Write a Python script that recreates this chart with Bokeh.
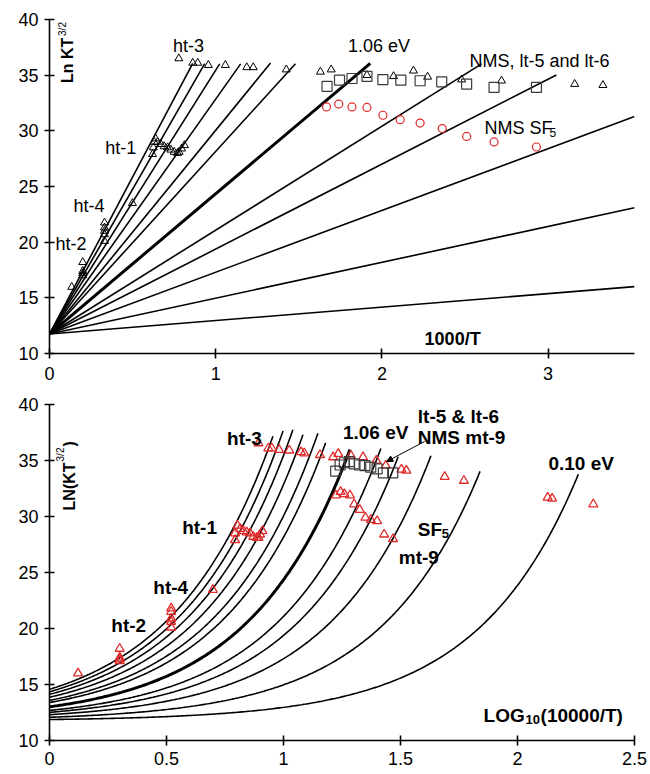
import math
import numpy as np
from bokeh.plotting import figure
from bokeh.layouts import column
from bokeh.models import Range1d, FixedTicker, Label, Arrow, NormalHead
from bokeh.embed import file_html
from bokeh.resources import INLINE

# ---- model lines: Ln(K T^3/2) = intercept + slope * (1000/T) ----
intercept = 11.75
slopes = [28.2, 26.0, 23.7, 21.1, 18.3, 16.4, 12.6, 9.33, 7.63, 5.55, 3.22, 1.21]
thick_line = [False, False, False, False, False, False, True, False, False, False, False, False]
top_line_end_u = [0.862, 0.934, 1.024, 1.15, 1.33, 1.48, 1.93, 2.6, 3.05, 3.52, 3.52, 3.52]
bottom_curve_end_x = [0.955, 0.998, 1.04, 1.083, 1.147, 1.18, 1.284, 1.416, 1.49, 1.63, 1.84, 2.26]

# ---- top panel data (x = 1000/T) ----
top_ht2_u = [0.134, 0.2, 0.2, 0.2, 0.2]
top_ht2_y = [15.97, 18.2, 17.4, 17.2, 17.0]
top_ht4_u = [0.331, 0.331, 0.331, 0.331, 0.331, 0.499]
top_ht4_y = [21.75, 21.3, 21.0, 20.7, 20.1, 23.5]
top_ht1_u = [0.62, 0.625, 0.63, 0.638, 0.65, 0.67, 0.69, 0.71, 0.73, 0.75, 0.77, 0.78, 0.795, 0.812]
top_ht1_y = [27.9, 28.5, 29.0, 29.3, 29.0, 28.8, 28.6, 28.5, 28.3, 28.1, 28.0, 28.1, 28.4, 28.7]
top_ht3_u = [0.778, 0.862, 0.892, 0.956, 1.058, 1.187, 1.226, 1.425, 1.63, 1.695, 1.91, 2.07,
             2.19, 2.275, 2.48, 2.72, 3.16, 3.33]
top_ht3_y = [36.5, 36.1, 36.1, 35.9, 35.9, 35.7, 35.7, 35.5, 35.3, 35.5, 35.0, 34.9,
             35.4, 34.85, 34.6, 34.5, 34.2, 34.1]
top_nms_u = [1.67, 1.745, 1.82, 1.91, 2.006, 2.114, 2.23, 2.36, 2.51, 2.675, 2.93]
top_nms_y = [34.0, 34.55, 34.7, 34.9, 34.6, 34.55, 34.5, 34.4, 34.2, 33.9, 33.9]
top_sf5_u = [1.667, 1.74, 1.82, 1.91, 2.006, 2.11, 2.23, 2.363, 2.51, 2.675, 2.93]
top_sf5_y = [32.15, 32.4, 32.15, 32.1, 31.4, 31.0, 30.7, 30.2, 29.5, 29.0, 28.55]

# ---- bottom panel data (x = log10(10000/T)) ----
bot_ht24_x = [0.122, 0.3, 0.3, 0.3, 0.3, 0.52, 0.52, 0.52, 0.52, 0.52, 0.698]
bot_ht24_y = [16.0, 18.2, 17.4, 17.25, 17.1, 21.8, 21.5, 20.9, 20.6, 20.1, 23.45]
bot_ht1_x = [0.793, 0.793, 0.803, 0.815, 0.829, 0.843, 0.857, 0.871, 0.886, 0.893, 0.9, 0.91]
bot_ht1_y = [27.9, 28.5, 29.2, 28.9, 28.7, 28.6, 28.5, 28.2, 28.1, 28.1, 28.4, 28.7]
bot_ht3_x = [0.893, 0.935, 0.95, 0.981, 1.025, 1.075, 1.089, 1.156, 1.212, 1.234, 1.288, 1.34,
             1.397, 1.437, 1.504, 1.525, 1.689, 1.771, 2.129, 2.148, 2.324]
bot_ht3_y = [36.55, 36.1, 36.1, 35.95, 35.9, 35.75, 35.65, 35.5, 35.3, 35.6, 35.45, 35.3,
             35.0, 34.55, 34.2, 34.1, 33.55, 33.2, 31.7, 31.6, 31.1]
bot_sf5_x = [1.224, 1.244, 1.26, 1.284, 1.302, 1.326, 1.35, 1.373, 1.4, 1.43, 1.468]
bot_sf5_y = [31.9, 32.2, 32.0, 31.9, 31.1, 30.6, 29.9, 29.7, 29.6, 28.4, 28.0]
bot_nms_x = [1.223, 1.242, 1.26, 1.281, 1.302, 1.325, 1.348, 1.373, 1.4, 1.427, 1.467]
bot_nms_y = [34.05, 34.6, 34.8, 34.9, 34.7, 34.6, 34.55, 34.4, 34.25, 33.9, 33.9]

top_xticks = [0, 1, 2, 3]
bot_xticks = [0, 0.5, 1, 1.5, 2, 2.5]
bot_xtick_labels = ["0", "0.5", "1", "1.5", "2", "2.5"]
yticks = [10, 15, 20, 25, 30, 35, 40]

FONT = "Liberation Sans"
RED = "#e02a2a"
GRAY = "#3a3a3a"


def style(p, xticks):
    p.xaxis.ticker = FixedTicker(ticks=xticks)
    p.yaxis.ticker = FixedTicker(ticks=yticks)
    p.xgrid.visible = False
    p.ygrid.visible = False
    p.outline_line_color = None
    for ax in (p.xaxis[0], p.yaxis[0]):
        ax.axis_line_width = 1.6
        ax.axis_line_color = "black"
        ax.major_tick_line_width = 1.6
        ax.major_tick_in = 5
        ax.major_tick_out = 5
        ax.minor_tick_line_color = None
        ax.major_label_text_font = FONT
        ax.major_label_text_font_size = "18px"
        ax.major_label_text_color = "black"
    p.yaxis.major_label_standoff = 6


def lab(p, x, y, text, size="18px", bold=False, angle=0, xo=0, yo=0):
    p.add_layout(Label(x=x, y=y, text=text, text_font=FONT, text_font_size=size,
                       text_font_style="bold" if bold else "normal", text_color="black",
                       text_align="left", text_baseline="alphabetic", angle=angle,
                       x_offset=xo, y_offset=yo))


# ================= top panel =================
p1 = figure(width=648, height=392, output_backend="svg", toolbar_location=None,
            x_range=Range1d(0, 3.52), y_range=Range1d(10, 40),
            min_border_left=46, min_border_right=14, min_border_top=19, min_border_bottom=39)
style(p1, top_xticks)
p1.xaxis.major_label_standoff = 8

for s, e, th in zip(slopes, top_line_end_u, thick_line):
    p1.line([0, e], [intercept, intercept + s * e], line_color="black",
            line_width=3.0 if th else 1.6)

for xs, ys in ((top_ht2_u, top_ht2_y), (top_ht4_u, top_ht4_y), (top_ht1_u, top_ht1_y),
               (top_ht3_u, top_ht3_y)):
    p1.scatter(xs, ys, marker="triangle", size=8, fill_color=None, line_color="black",
               line_width=1)
p1.scatter(top_nms_u, top_nms_y, marker="square", size=10, fill_color=None,
           line_color=GRAY, line_width=1.2)
p1.scatter(top_sf5_u, top_sf5_y, marker="circle", size=8, fill_color=None,
           line_color=RED, line_width=1.2)

lab(p1, 0.743, 37.63, "ht-3")
lab(p1, 1.796, 37.63, "1.06 eV")
lab(p1, 2.527, 36.28, "NMS, lt-5 and lt-6")
lab(p1, 2.617, 30.23, "NMS SF")
lab(p1, 2.617, 30.23, "5", size="12px", xo=65, yo=-4)
lab(p1, 0.335, 28.46, "ht-1")
lab(p1, 0.144, 23.25, "ht-4")
lab(p1, 0.036, 19.84, "ht-2")
lab(p1, 2.257, 11.3, "1000/T", bold=True)
lab(p1, 0.186, 34.3, "Ln KT", size="16px", bold=True, angle=math.pi / 2, xo=-13)
lab(p1, 0.186, 34.3, "3/2", size="10px", bold=False, angle=math.pi / 2, xo=-18, yo=47)

# ================= bottom panel =================
p2 = figure(width=648, height=380, output_backend="svg", toolbar_location=None,
            x_range=Range1d(0, 2.5), y_range=Range1d(10, 40),
            min_border_left=49, min_border_right=12, min_border_top=12, min_border_bottom=32)
style(p2, bot_xticks)
p2.xaxis.major_label_overrides = {t: l for t, l in zip(bot_xticks, bot_xtick_labels)}
p2.xaxis.major_label_standoff = 6

for s, e, th in zip(slopes, bottom_curve_end_x, thick_line):
    xx = np.linspace(0, e, 240)
    p2.line(xx, intercept + s * 10 ** (xx - 1), line_color="black",
            line_width=3.0 if th else 1.6)

for xs, ys in ((bot_ht24_x, bot_ht24_y), (bot_ht1_x, bot_ht1_y), (bot_ht3_x, bot_ht3_y),
               (bot_sf5_x, bot_sf5_y)):
    p2.scatter(xs, ys, marker="triangle", size=9, fill_color=None, line_color=RED,
               line_width=1.3)
p2.scatter(bot_nms_x, bot_nms_y, marker="square", size=10, fill_color=None,
           line_color=GRAY, line_width=1.2)

p2.add_layout(Arrow(end=NormalHead(size=6, fill_color="black", line_color="black"),
                    x_start=1.603, y_start=36.7, x_end=1.441, y_end=34.91,
                    line_color="black", line_width=1))

lab(p2, 0.759, 36.96, "ht-3", size="19px", bold=True)
lab(p2, 0.567, 29.02, "ht-1", size="19px", bold=True)
lab(p2, 0.4435, 23.66, "ht-4", size="19px", bold=True)
lab(p2, 0.264, 20.27, "ht-2", size="19px", bold=True)
lab(p2, 1.254, 37.5, "1.06 eV", size="19px", bold=True)
lab(p2, 1.574, 38.93, "lt-5 & lt-6", size="19px", bold=True)
lab(p2, 1.574, 37.05, "NMS mt-9", size="19px", bold=True)
lab(p2, 2.132, 34.73, "0.10 eV", size="19px", bold=True)
lab(p2, 1.574, 28.84, "SF", size="19px", bold=True)
lab(p2, 1.574, 28.84, "5", size="13px", bold=True, xo=24, yo=-4)
lab(p2, 1.4925, 26.34, "mt-9", size="19px", bold=True)
lab(p2, 1.855, 12.23, "LOG", size="19px", bold=True)
lab(p2, 1.855, 12.23, "10", size="13px", bold=True, xo=42, yo=-4)
lab(p2, 1.855, 12.23, "(10000/T)", size="19px", bold=True, xo=57)
lab(p2, 0.141, 30.54, "LN(KT", size="16px", bold=True, angle=math.pi / 2, xo=-13)
lab(p2, 0.141, 30.54, "3/2", size="10px", angle=math.pi / 2, xo=-22, yo=49)
lab(p2, 0.141, 30.54, ")", size="16px", bold=True, angle=math.pi / 2, xo=-13, yo=64)

layout = column(p1, p2)
open("out.html", "w").write(file_html(layout, INLINE))
